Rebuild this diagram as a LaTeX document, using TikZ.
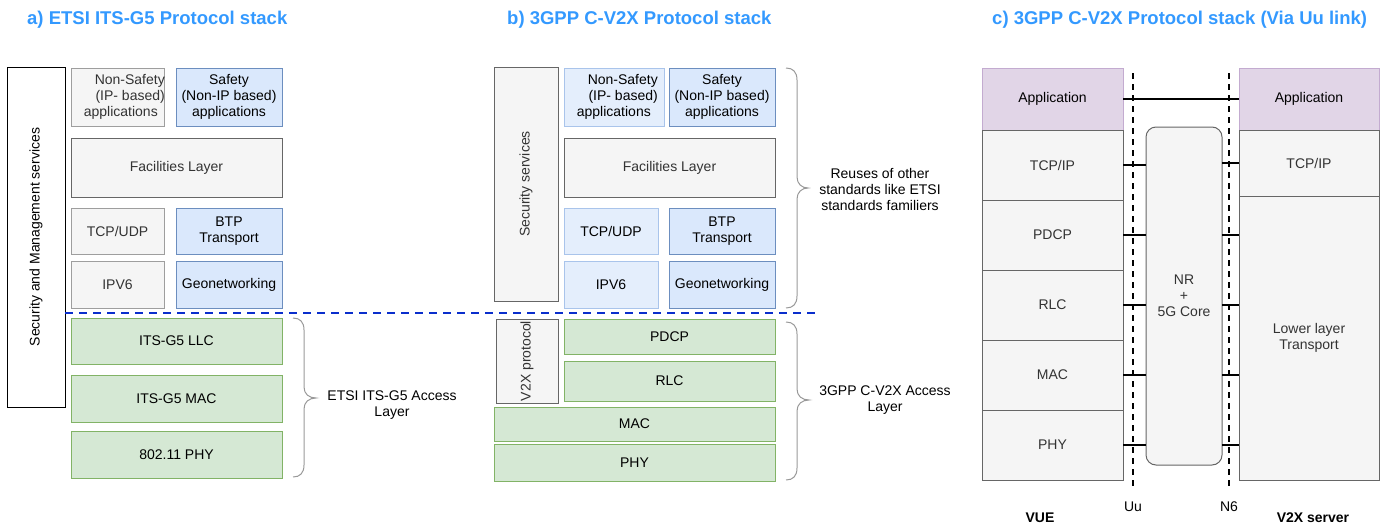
\documentclass[tikz,border=0pt]{standalone}
\usepackage{fontspec}
\setmainfont{Liberation Sans}
\usetikzlibrary{calc}
\definecolor{titleblue}{HTML}{3399FF}
\definecolor{gfill}{HTML}{F5F5F5}
\definecolor{gdraw}{HTML}{666666}
\definecolor{gdrawl}{HTML}{9E9E9E}
\definecolor{gtext}{HTML}{333333}
\definecolor{bfill}{HTML}{DAE8FC}
\definecolor{bdraw}{HTML}{6C8EBF}
\definecolor{lbfill}{HTML}{E4EEFC}
\definecolor{lbdraw}{HTML}{A9C4EB}
\definecolor{grfill}{HTML}{D5E8D4}
\definecolor{grdraw}{HTML}{82B366}
\definecolor{pfill}{HTML}{E1D5E7}
\definecolor{pdraw}{HTML}{C3ABD0}
\definecolor{sepblue}{HTML}{0A2ECC}
\definecolor{bracegrey}{HTML}{999999}
\newcommand\stackbox[7]{\node[#1, minimum width={#4-#2}, minimum height={#5-#3}] (#6) at ({(#2+#4)/2},{(#3+#5)/2}) {#7};}
\tikzset{
  body/.style={font=\fontsize{14}{16}\selectfont},
  basebox/.style={body, draw, line width=1pt, inner sep=0pt, outer sep=0pt, align=center},
  greybox/.style={basebox, fill=gfill, draw=gdraw, text=gtext},
  lgreybox/.style={basebox, fill=gfill, draw=gdrawl, text=gtext},
  whitebox/.style={basebox, fill=white, draw=black, text=black},
  bluebox/.style={basebox, fill=bfill, draw=bdraw, text=black},
  lbluebox/.style={basebox, fill=lbfill, draw=lbdraw, text=black},
  greenbox/.style={basebox, fill=grfill, draw=grdraw, text=black},
  purplebox/.style={basebox, fill=pfill, draw=pdraw, text=black},
  coregbox/.style={greybox, rounded corners=10pt},
  title/.style={font=\fontsize{18.5}{22}\selectfont\bfseries, text=titleblue, inner sep=0pt, anchor=base west},
  label/.style={body, align=center, text=black, inner sep=0pt},
  boldlabel/.style={label, font=\fontsize{14}{16}\selectfont\bfseries},
  bracepath/.style={draw=bracegrey, line width=1pt},
  sepline/.style={draw=sepblue, line width=2.5pt, dash pattern=on 8pt off 6pt},
  refline/.style={draw=black, line width=2.2pt, dash pattern=on 6pt off 5pt},
  conn/.style={draw=black, line width=2pt},
}
\begin{document}
\begin{tikzpicture}[x=1pt,y=-1pt]
\useasboundingbox (0,0) rectangle (1383,527);

% titles
\node[title] (ta) at (27,24.5) {a) ETSI ITS-G5 Protocol stack};
\node[title] (tb) at (507,24.5) {b) 3GPP C-V2X Protocol stack};
\node[title] (tc) at (992,24.5) {c) 3GPP C-V2X Protocol stack (Via Uu link)};

% ---------- panel a ----------
\stackbox{whitebox}{7}{67}{65}{407}{secA}{}
\node[label, rotate=90] (secAt) at (secA.center) {Security and Management services};
\stackbox{lgreybox}{71}{68}{164}{126}{nsA}{}
\node[label, align=right, anchor=east, text=gtext] (nsAt) at (165,97) {Non-Safety\\(IP- based)\\applications\hspace*{7pt}};
\stackbox{bluebox}{176}{68}{282}{126}{sA}{Safety\\(Non-IP based)\\applications}
\stackbox{greybox}{71}{138}{282}{197}{facA}{Facilities Layer}
\stackbox{lgreybox}{71}{208}{164}{254}{tcpA}{TCP/UDP}
\stackbox{bluebox}{176}{208}{282}{254}{btpA}{BTP\\Transport}
\stackbox{lgreybox}{71}{261}{164}{308}{ipA}{IPV6}
\stackbox{bluebox}{176}{261}{282}{308}{geoA}{Geonetworking}
\stackbox{greenbox}{71}{318}{282}{364}{llcA}{ITS-G5 LLC}
\stackbox{greenbox}{71}{375}{282}{422}{macA}{ITS-G5 MAC}
\stackbox{greenbox}{71}{431}{282}{478}{phyA}{802.11 PHY}

\path[bracepath] (293,318) .. controls (300,318) and (304,322) .. (304,330) -- (304,387)
  .. controls (304,394) and (309,398) .. (316,398) .. controls (309,398) and (304,402) .. (304,409)
  -- (304,465) .. controls (304,473) and (300,477) .. (293,477);
\node[label] (accA) at (392,405) {ETSI ITS-G5 Access\\Layer};

% separator
\coordinate (sepL) at (65,313);
\coordinate (sepR) at (815,313);
\path[sepline] (sepL) -- (sepR);

% ---------- panel b ----------
\stackbox{greybox}{494}{67}{558}{301}{secB}{}
\node[label, rotate=90, text=gtext] (secBt) at (secB.center) {Security services};
\stackbox{lbluebox}{564}{68}{664}{126}{nsB}{}
\node[label, align=right, anchor=east] (nsBt) at (658,97) {Non-Safety\\(IP- based)\\applications\hspace*{7pt}};
\stackbox{bluebox}{669}{68}{775}{126}{sB}{Safety\\(Non-IP based)\\applications}
\stackbox{greybox}{564}{138}{775}{197}{facB}{Facilities Layer}
\stackbox{lbluebox}{564}{208}{658}{254}{tcpB}{TCP/UDP}
\stackbox{bluebox}{669}{208}{775}{254}{btpB}{BTP\\Transport}
\stackbox{lbluebox}{564}{261}{658}{308}{ipB}{IPV6}
\stackbox{bluebox}{669}{261}{775}{308}{geoB}{Geonetworking}
\stackbox{greybox}{496}{319}{558}{403}{v2x}{}
\node[label, rotate=90, text=gtext] (v2xt) at (v2x.center) {V2X protocol};
\stackbox{greenbox}{564}{319}{775}{354}{pdcpB}{PDCP}
\stackbox{greenbox}{564}{361}{775}{401}{rlcB}{RLC}
\stackbox{greenbox}{494}{407}{775}{441}{macB}{MAC}
\stackbox{greenbox}{494}{444}{775}{481}{phyB}{PHY}

\path[bracepath] (786,68) .. controls (793,68) and (797,72) .. (797,80) -- (797,177)
  .. controls (797,184) and (802,188) .. (808,188) .. controls (802,188) and (797,192) .. (797,199)
  -- (797,296) .. controls (797,304) and (793,308) .. (786,308);
\node[label] (reuse) at (880,189) {Reuses of other\\standards like ETSI\\standards familiers};
\path[bracepath] (786,322) .. controls (793,322) and (797,326) .. (797,334) -- (797,389)
  .. controls (797,396) and (802,400) .. (809,400) .. controls (802,400) and (797,404) .. (797,411)
  -- (797,468) .. controls (797,476) and (793,480) .. (786,480);
\node[label] (accB) at (885,400) {3GPP C-V2X Access\\Layer};

% ---------- panel c ----------
\stackbox{purplebox}{982}{68}{1123}{130}{appL}{Application}
\stackbox{greybox}{982}{130}{1123}{200}{tcpL}{TCP/IP}
\stackbox{greybox}{982}{200}{1123}{270}{pdcpL}{PDCP}
\stackbox{greybox}{982}{270}{1123}{340}{rlcL}{RLC}
\stackbox{greybox}{982}{340}{1123}{410}{macL}{MAC}
\stackbox{greybox}{982}{410}{1123}{480}{phyL}{PHY}
\stackbox{purplebox}{1239}{68}{1379}{130}{appR}{Application}
\stackbox{greybox}{1239}{130}{1379}{196}{tcpR}{TCP/IP}
\stackbox{greybox}{1239}{196}{1379}{480}{lowR}{Lower layer\\Transport}
\stackbox{coregbox}{1146}{127}{1222}{465}{core}{NR\\+\\5G Core}

\coordinate (uuT) at (1133,73);
\coordinate (uuB) at (1133,488);
\coordinate (n6T) at (1229,73);
\coordinate (n6B) at (1229,488);
\path[refline] (uuT) -- (uuB);
\path[refline] (n6T) -- (n6B);

\path[conn] (appL.east) -- (appR.west);
\foreach \r in {tcpL,pdcpL,rlcL,macL,phyL}{
  \path[conn] (\r.east) -- (core.west |- \r.east);
}
\path[conn] (core.east |- tcpR.west) -- (tcpR.west);
\foreach \r in {pdcpL,rlcL,macL,phyL}{
  \path[conn] (core.east |- \r.east) -- (lowR.west |- \r.east);
}

\node[label] (uu) at (1133,507) {Uu};
\node[label] (n6) at (1229,507) {N6};
\node[boldlabel] (vue) at (1040,518) {VUE};
\node[boldlabel] (srv) at (1313,518) {V2X server};
\end{tikzpicture}
\end{document}
